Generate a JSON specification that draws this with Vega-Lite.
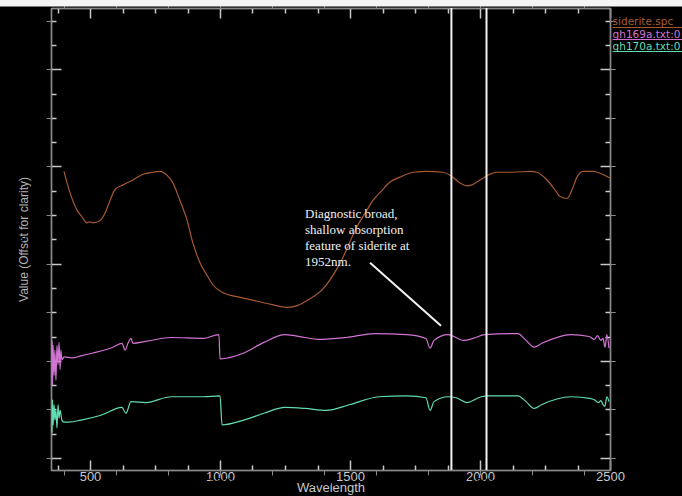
{
  "$schema": "https://vega.github.io/schema/vega-lite/v6.json",
  "width": 559,
  "height": 462,
  "autosize": {"type": "none"},
  "padding": {"left": 51, "top": 8, "right": 72, "bottom": 26},
  "background": "black",
  "config": {"view": {"stroke": null}},
  "datasets": {
    "spectra": [
      {"series": "siderite.spc", "wl": 400, "v": 2.95},
      {"series": "siderite.spc", "wl": 423, "v": 2.73},
      {"series": "siderite.spc", "wl": 450, "v": 2.55},
      {"series": "siderite.spc", "wl": 469, "v": 2.48},
      {"series": "siderite.spc", "wl": 488, "v": 2.42},
      {"series": "siderite.spc", "wl": 500, "v": 2.43},
      {"series": "siderite.spc", "wl": 512, "v": 2.42},
      {"series": "siderite.spc", "wl": 538, "v": 2.44},
      {"series": "siderite.spc", "wl": 558, "v": 2.52},
      {"series": "siderite.spc", "wl": 577, "v": 2.65},
      {"series": "siderite.spc", "wl": 596, "v": 2.76},
      {"series": "siderite.spc", "wl": 627, "v": 2.81},
      {"series": "siderite.spc", "wl": 665, "v": 2.86},
      {"series": "siderite.spc", "wl": 704, "v": 2.92},
      {"series": "siderite.spc", "wl": 742, "v": 2.94},
      {"series": "siderite.spc", "wl": 769, "v": 2.95},
      {"series": "siderite.spc", "wl": 796, "v": 2.91},
      {"series": "siderite.spc", "wl": 819, "v": 2.83},
      {"series": "siderite.spc", "wl": 846, "v": 2.65},
      {"series": "siderite.spc", "wl": 873, "v": 2.45},
      {"series": "siderite.spc", "wl": 896, "v": 2.21},
      {"series": "siderite.spc", "wl": 923, "v": 2.01},
      {"series": "siderite.spc", "wl": 950, "v": 1.88},
      {"series": "siderite.spc", "wl": 973, "v": 1.78},
      {"series": "siderite.spc", "wl": 1012, "v": 1.70},
      {"series": "siderite.spc", "wl": 1065, "v": 1.66},
      {"series": "siderite.spc", "wl": 1115, "v": 1.63},
      {"series": "siderite.spc", "wl": 1181, "v": 1.59},
      {"series": "siderite.spc", "wl": 1258, "v": 1.55},
      {"series": "siderite.spc", "wl": 1300, "v": 1.57},
      {"series": "siderite.spc", "wl": 1335, "v": 1.62},
      {"series": "siderite.spc", "wl": 1396, "v": 1.74},
      {"series": "siderite.spc", "wl": 1461, "v": 2.00},
      {"series": "siderite.spc", "wl": 1527, "v": 2.38},
      {"series": "siderite.spc", "wl": 1565, "v": 2.55},
      {"series": "siderite.spc", "wl": 1588, "v": 2.65},
      {"series": "siderite.spc", "wl": 1615, "v": 2.73},
      {"series": "siderite.spc", "wl": 1654, "v": 2.84},
      {"series": "siderite.spc", "wl": 1692, "v": 2.89},
      {"series": "siderite.spc", "wl": 1742, "v": 2.94},
      {"series": "siderite.spc", "wl": 1796, "v": 2.95},
      {"series": "siderite.spc", "wl": 1858, "v": 2.94},
      {"series": "siderite.spc", "wl": 1885, "v": 2.91},
      {"series": "siderite.spc", "wl": 1923, "v": 2.83},
      {"series": "siderite.spc", "wl": 1950, "v": 2.80},
      {"series": "siderite.spc", "wl": 1969, "v": 2.81},
      {"series": "siderite.spc", "wl": 2000, "v": 2.86},
      {"series": "siderite.spc", "wl": 2038, "v": 2.92},
      {"series": "siderite.spc", "wl": 2065, "v": 2.94},
      {"series": "siderite.spc", "wl": 2127, "v": 2.94},
      {"series": "siderite.spc", "wl": 2192, "v": 2.95},
      {"series": "siderite.spc", "wl": 2219, "v": 2.94},
      {"series": "siderite.spc", "wl": 2258, "v": 2.86},
      {"series": "siderite.spc", "wl": 2288, "v": 2.76},
      {"series": "siderite.spc", "wl": 2308, "v": 2.69},
      {"series": "siderite.spc", "wl": 2335, "v": 2.67},
      {"series": "siderite.spc", "wl": 2354, "v": 2.76},
      {"series": "siderite.spc", "wl": 2373, "v": 2.89},
      {"series": "siderite.spc", "wl": 2396, "v": 2.95},
      {"series": "siderite.spc", "wl": 2435, "v": 2.95},
      {"series": "siderite.spc", "wl": 2462, "v": 2.93},
      {"series": "siderite.spc", "wl": 2500, "v": 2.88},

      {"series": "gh169a.txt:0", "wl": 354, "v": 1.21},
      {"series": "gh169a.txt:0", "wl": 356, "v": 0.75},
      {"series": "gh169a.txt:0", "wl": 358, "v": 1.16},
      {"series": "gh169a.txt:0", "wl": 362, "v": 0.85},
      {"series": "gh169a.txt:0", "wl": 365, "v": 1.11},
      {"series": "gh169a.txt:0", "wl": 369, "v": 0.80},
      {"series": "gh169a.txt:0", "wl": 373, "v": 1.16},
      {"series": "gh169a.txt:0", "wl": 377, "v": 0.96},
      {"series": "gh169a.txt:0", "wl": 381, "v": 1.19},
      {"series": "gh169a.txt:0", "wl": 385, "v": 0.91},
      {"series": "gh169a.txt:0", "wl": 388, "v": 1.11},
      {"series": "gh169a.txt:0", "wl": 392, "v": 1.01},
      {"series": "gh169a.txt:0", "wl": 400, "v": 1.04},
      {"series": "gh169a.txt:0", "wl": 430, "v": 1.03},
      {"series": "gh169a.txt:0", "wl": 465, "v": 1.05},
      {"series": "gh169a.txt:0", "wl": 512, "v": 1.08},
      {"series": "gh169a.txt:0", "wl": 588, "v": 1.14},
      {"series": "gh169a.txt:0", "wl": 623, "v": 1.18},
      {"series": "gh169a.txt:0", "wl": 635, "v": 1.11},
      {"series": "gh169a.txt:0", "wl": 646, "v": 1.18},
      {"series": "gh169a.txt:0", "wl": 658, "v": 1.23},
      {"series": "gh169a.txt:0", "wl": 665, "v": 1.18},
      {"series": "gh169a.txt:0", "wl": 715, "v": 1.20},
      {"series": "gh169a.txt:0", "wl": 812, "v": 1.24},
      {"series": "gh169a.txt:0", "wl": 935, "v": 1.23},
      {"series": "gh169a.txt:0", "wl": 996, "v": 1.27},
      {"series": "gh169a.txt:0", "wl": 1000, "v": 1.02},
      {"series": "gh169a.txt:0", "wl": 1092, "v": 1.08},
      {"series": "gh169a.txt:0", "wl": 1169, "v": 1.19},
      {"series": "gh169a.txt:0", "wl": 1250, "v": 1.27},
      {"series": "gh169a.txt:0", "wl": 1327, "v": 1.24},
      {"series": "gh169a.txt:0", "wl": 1377, "v": 1.22},
      {"series": "gh169a.txt:0", "wl": 1485, "v": 1.24},
      {"series": "gh169a.txt:0", "wl": 1596, "v": 1.28},
      {"series": "gh169a.txt:0", "wl": 1719, "v": 1.27},
      {"series": "gh169a.txt:0", "wl": 1792, "v": 1.23},
      {"series": "gh169a.txt:0", "wl": 1808, "v": 1.13},
      {"series": "gh169a.txt:0", "wl": 1823, "v": 1.21},
      {"series": "gh169a.txt:0", "wl": 1877, "v": 1.27},
      {"series": "gh169a.txt:0", "wl": 1938, "v": 1.21},
      {"series": "gh169a.txt:0", "wl": 1973, "v": 1.23},
      {"series": "gh169a.txt:0", "wl": 2019, "v": 1.27},
      {"series": "gh169a.txt:0", "wl": 2146, "v": 1.28},
      {"series": "gh169a.txt:0", "wl": 2177, "v": 1.21},
      {"series": "gh169a.txt:0", "wl": 2208, "v": 1.14},
      {"series": "gh169a.txt:0", "wl": 2238, "v": 1.18},
      {"series": "gh169a.txt:0", "wl": 2350, "v": 1.27},
      {"series": "gh169a.txt:0", "wl": 2420, "v": 1.25},
      {"series": "gh169a.txt:0", "wl": 2440, "v": 1.22},
      {"series": "gh169a.txt:0", "wl": 2452, "v": 1.26},
      {"series": "gh169a.txt:0", "wl": 2465, "v": 1.21},
      {"series": "gh169a.txt:0", "wl": 2473, "v": 1.23},
      {"series": "gh169a.txt:0", "wl": 2481, "v": 1.14},
      {"series": "gh169a.txt:0", "wl": 2488, "v": 1.27},
      {"series": "gh169a.txt:0", "wl": 2496, "v": 1.13},

      {"series": "gh170a.txt:0", "wl": 354, "v": 0.26},
      {"series": "gh170a.txt:0", "wl": 356, "v": 0.60},
      {"series": "gh170a.txt:0", "wl": 358, "v": 0.34},
      {"series": "gh170a.txt:0", "wl": 362, "v": 0.55},
      {"series": "gh170a.txt:0", "wl": 365, "v": 0.39},
      {"series": "gh170a.txt:0", "wl": 369, "v": 0.49},
      {"series": "gh170a.txt:0", "wl": 373, "v": 0.31},
      {"series": "gh170a.txt:0", "wl": 377, "v": 0.55},
      {"series": "gh170a.txt:0", "wl": 381, "v": 0.41},
      {"series": "gh170a.txt:0", "wl": 385, "v": 0.49},
      {"series": "gh170a.txt:0", "wl": 392, "v": 0.39},
      {"series": "gh170a.txt:0", "wl": 400, "v": 0.37},
      {"series": "gh170a.txt:0", "wl": 419, "v": 0.37},
      {"series": "gh170a.txt:0", "wl": 465, "v": 0.39},
      {"series": "gh170a.txt:0", "wl": 542, "v": 0.44},
      {"series": "gh170a.txt:0", "wl": 623, "v": 0.52},
      {"series": "gh170a.txt:0", "wl": 638, "v": 0.46},
      {"series": "gh170a.txt:0", "wl": 658, "v": 0.58},
      {"series": "gh170a.txt:0", "wl": 715, "v": 0.57},
      {"series": "gh170a.txt:0", "wl": 812, "v": 0.63},
      {"series": "gh170a.txt:0", "wl": 935, "v": 0.63},
      {"series": "gh170a.txt:0", "wl": 1000, "v": 0.64},
      {"series": "gh170a.txt:0", "wl": 1008, "v": 0.34},
      {"series": "gh170a.txt:0", "wl": 1092, "v": 0.39},
      {"series": "gh170a.txt:0", "wl": 1169, "v": 0.46},
      {"series": "gh170a.txt:0", "wl": 1250, "v": 0.52},
      {"series": "gh170a.txt:0", "wl": 1327, "v": 0.51},
      {"series": "gh170a.txt:0", "wl": 1408, "v": 0.49},
      {"series": "gh170a.txt:0", "wl": 1500, "v": 0.55},
      {"series": "gh170a.txt:0", "wl": 1611, "v": 0.63},
      {"series": "gh170a.txt:0", "wl": 1719, "v": 0.64},
      {"series": "gh170a.txt:0", "wl": 1792, "v": 0.62},
      {"series": "gh170a.txt:0", "wl": 1808, "v": 0.49},
      {"series": "gh170a.txt:0", "wl": 1823, "v": 0.58},
      {"series": "gh170a.txt:0", "wl": 1877, "v": 0.63},
      {"series": "gh170a.txt:0", "wl": 1908, "v": 0.62},
      {"series": "gh170a.txt:0", "wl": 1950, "v": 0.57},
      {"series": "gh170a.txt:0", "wl": 2004, "v": 0.63},
      {"series": "gh170a.txt:0", "wl": 2035, "v": 0.64},
      {"series": "gh170a.txt:0", "wl": 2146, "v": 0.64},
      {"series": "gh170a.txt:0", "wl": 2177, "v": 0.58},
      {"series": "gh170a.txt:0", "wl": 2208, "v": 0.51},
      {"series": "gh170a.txt:0", "wl": 2238, "v": 0.55},
      {"series": "gh170a.txt:0", "wl": 2350, "v": 0.63},
      {"series": "gh170a.txt:0", "wl": 2427, "v": 0.61},
      {"series": "gh170a.txt:0", "wl": 2440, "v": 0.60},
      {"series": "gh170a.txt:0", "wl": 2455, "v": 0.57},
      {"series": "gh170a.txt:0", "wl": 2465, "v": 0.59},
      {"series": "gh170a.txt:0", "wl": 2473, "v": 0.55},
      {"series": "gh170a.txt:0", "wl": 2480, "v": 0.53},
      {"series": "gh170a.txt:0", "wl": 2488, "v": 0.63},
      {"series": "gh170a.txt:0", "wl": 2496, "v": 0.58}
    ],
    "vlines": [{"wl": 1890}, {"wl": 2025}],
    "note": [{"label": "Diagnostic broad,\nshallow absorption\nfeature of siderite at\n1952nm.", "wl": 1327, "v": 2.47, "wl2": 1850, "vStart": 2.01, "vEnd": 1.36, "wlStart": 1577}],
    "legend": [
      {"series": "siderite.spc", "lv": 4.45},
      {"series": "gh169a.txt:0", "lv": 4.326},
      {"series": "gh170a.txt:0", "lv": 4.203}
    ],
    "band": [{"wlA": 0, "wlB": 3000, "vA": 4.646, "vB": 5.2}]
  },
  "layer": [
    {
      "data": {"name": "band"},
      "mark": {"type": "rect", "fill": "#f4f4f4", "clip": false},
      "encoding": {
        "x": {"field": "wlA", "type": "quantitative", "axis": null},
        "x2": {"field": "wlB"},
        "y": {"field": "vA", "type": "quantitative", "axis": null},
        "y2": {"field": "vB"}
      }
    },
    {
      "data": {"name": "spectra"},
      "mark": {"type": "line", "strokeWidth": 1.2, "interpolate": "monotone"},
      "encoding": {
        "x": {
          "field": "wl", "type": "quantitative",
          "scale": {"domain": [350, 2500], "nice": false, "zero": false},
          "axis": {
            "orient": "bottom",
            "values": [375, 500, 625, 750, 875, 1000, 1125, 1250, 1375, 1500, 1625, 1750, 1875, 2000, 2125, 2250, 2375, 2500],
            "tickSize": {"condition": {"test": "datum.value % 500 === 0", "value": -10}, "value": -5},
            "labelExpr": "datum.value % 500 === 0 ? datum.label : ''",
            "format": "d",
            "title": "Wavelength",
            "grid": false,
            "domainColor": "#c8c8c8", "domainWidth": 1.5,
            "tickColor": "#c8c8c8", "tickWidth": 1.5,
            "labelColor": "#c8c8c8", "labelFont": "Liberation Sans", "labelFontSize": 13,
            "labelFlush": false, "labelOverlap": false, "labelPadding": 10,
            "titleColor": "#c8c8c8", "titleFont": "Liberation Sans", "titleFontSize": 13, "titleFontWeight": "normal", "titlePadding": -7
          }
        },
        "y": {
          "field": "v", "type": "quantitative",
          "scale": {"domain": [-0.1235, 4.63], "nice": false, "zero": false},
          "axis": {
            "orient": "left",
            "values": [0, 0.25, 0.5, 0.75, 1, 1.25, 1.5, 1.75, 2, 2.25, 2.5, 2.75, 3, 3.25, 3.5, 3.75, 4, 4.25, 4.5],
            "tickSize": {"condition": {"test": "datum.value % 1 === 0", "value": -10}, "value": -5},
            "labels": false,
            "title": "Value (Offset for clarity)",
            "grid": false,
            "domainColor": "#c8c8c8", "domainWidth": 1.5,
            "tickColor": "#c8c8c8", "tickWidth": 1.5,
            "titleColor": "#b4b4b4", "titleFont": "Liberation Sans", "titleFontSize": 12, "titleFontWeight": "normal", "titlePadding": 20
          }
        },
        "color": {
          "field": "series", "type": "nominal",
          "scale": {"domain": ["siderite.spc", "gh169a.txt:0", "gh170a.txt:0"], "range": ["#a65a32", "#d274d4", "#62dcb2"]},
          "legend": null
        },
        "detail": {"field": "series"}
      }
    },
    {
      "data": {"name": "vlines"},
      "mark": {"type": "rule", "color": "#f2f2f2", "strokeWidth": 2},
      "encoding": {
        "x": {
          "field": "wl", "type": "quantitative",
          "axis": {
            "orient": "top",
            "values": [375, 500, 625, 750, 875, 1000, 1125, 1250, 1375, 1500, 1625, 1750, 1875, 2000, 2125, 2250, 2375, 2500],
            "tickSize": {"condition": {"test": "datum.value % 500 === 0", "value": -10}, "value": -5},
            "labels": false, "title": null, "grid": false,
            "domainColor": "#c8c8c8", "domainWidth": 1.5,
            "tickColor": "#c8c8c8", "tickWidth": 1.5
          }
        }
      }
    },
    {
      "data": {"name": "note"},
      "mark": {"type": "rule", "color": "#f2f2f2", "strokeWidth": 2},
      "encoding": {
        "x": {"field": "wlStart", "type": "quantitative"},
        "x2": {"field": "wl2"},
        "y": {
          "field": "vStart", "type": "quantitative",
          "axis": {
            "orient": "right",
            "values": [0, 0.25, 0.5, 0.75, 1, 1.25, 1.5, 1.75, 2, 2.25, 2.5, 2.75, 3, 3.25, 3.5, 3.75, 4, 4.25, 4.5],
            "tickSize": {"condition": {"test": "datum.value % 1 === 0", "value": -10}, "value": -5},
            "labels": false, "title": null, "grid": false,
            "domainColor": "#c8c8c8", "domainWidth": 1.5,
            "tickColor": "#c8c8c8", "tickWidth": 1.5
          }
        },
        "y2": {"field": "vEnd"}
      }
    },
    {
      "data": {"name": "note"},
      "mark": {"type": "text", "align": "left", "baseline": "alphabetic", "lineBreak": "\n", "lineHeight": 16, "font": "Liberation Serif", "fontSize": 13, "color": "#f0f0f0"},
      "encoding": {
        "x": {"field": "wl", "type": "quantitative"},
        "y": {"field": "v", "type": "quantitative"},
        "text": {"field": "label"}
      }
    },
    {
      "data": {"name": "legend"},
      "mark": {"type": "text", "align": "left", "baseline": "alphabetic", "font": "DejaVu Sans", "fontSize": 10.5},
      "encoding": {
        "x": {"datum": 2510, "type": "quantitative"},
        "y": {"field": "lv", "type": "quantitative"},
        "text": {"field": "series"},
        "color": {"field": "series", "type": "nominal"}
      }
    },
    {
      "data": {"name": "legend"},
      "mark": {"type": "rule", "strokeWidth": 1, "yOffset": 2},
      "encoding": {
        "x": {"datum": 2510, "type": "quantitative"},
        "x2": {"datum": 2800},
        "y": {"field": "lv", "type": "quantitative"},
        "color": {"field": "series", "type": "nominal"}
      }
    }
  ]
}
